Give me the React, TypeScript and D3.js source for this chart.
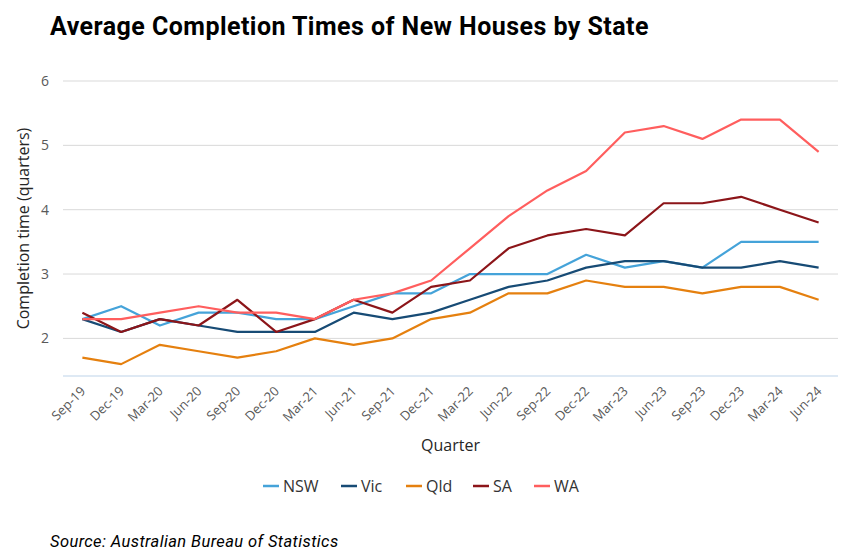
import React from "react";
import * as d3 from "d3";

const quarters = [
  "Sep-19", "Dec-19", "Mar-20", "Jun-20", "Sep-20", "Dec-20", "Mar-21", "Jun-21", "Sep-21", "Dec-21",
  "Mar-22", "Jun-22", "Sep-22", "Dec-22", "Mar-23", "Jun-23", "Sep-23", "Dec-23", "Mar-24", "Jun-24",
];
const nsw = [2.3, 2.5, 2.2, 2.4, 2.4, 2.3, 2.3, 2.5, 2.7, 2.7, 3.0, 3.0, 3.0, 3.3, 3.1, 3.2, 3.1, 3.5, 3.5, 3.5];
const vic = [2.3, 2.1, 2.3, 2.2, 2.1, 2.1, 2.1, 2.4, 2.3, 2.4, 2.6, 2.8, 2.9, 3.1, 3.2, 3.2, 3.1, 3.1, 3.2, 3.1];
const qld = [1.7, 1.6, 1.9, 1.8, 1.7, 1.8, 2.0, 1.9, 2.0, 2.3, 2.4, 2.7, 2.7, 2.9, 2.8, 2.8, 2.7, 2.8, 2.8, 2.6];
const sa = [2.4, 2.1, 2.3, 2.2, 2.6, 2.1, 2.3, 2.6, 2.4, 2.8, 2.9, 3.4, 3.6, 3.7, 3.6, 4.1, 4.1, 4.2, 4.0, 3.8];
const wa = [2.3, 2.3, 2.4, 2.5, 2.4, 2.4, 2.3, 2.6, 2.7, 2.9, 3.4, 3.9, 4.3, 4.6, 5.2, 5.3, 5.1, 5.4, 5.4, 4.9];
const seriesNames = ["NSW", "Vic", "Qld", "SA", "WA"];
const seriesValues = [nsw, vic, qld, sa, wa];
const seriesColors = ["#45A3D9", "#174B75", "#E5800F", "#8C1519", "#FF5E5E"];
const yTicks = [2, 3, 4, 5, 6];

const W = 843;
const H = 556;
const plotLeft = 63;
const plotRight = 838;
const plotTop = 81;
const plotBottom = 377;

export default function App() {
  const x = d3.scaleBand<string>().domain(quarters).range([plotLeft, plotRight]).padding(0);
  const cx = (q: string) => (x(q) as number) + x.bandwidth() / 2;
  const y = d3.scaleLinear().domain([1.4, 6]).range([plotBottom, plotTop]);
  const line = d3
    .line<number>()
    .x((_, i) => cx(quarters[i]))
    .y((v) => y(v));

  const legendItems = [
    { x: 263, text: 283 },
    { x: 341, text: 361 },
    { x: 406, text: 426 },
    { x: 473, text: 493 },
    { x: 534, text: 554 },
  ];

  return (
    <svg width={W} height={H} style={{ position: "absolute", left: 0, top: 0, background: "#fff" }}>
      <rect width={W} height={H} fill="#fff" />
      <text x={50} y={35} fontFamily="Roboto" fontWeight={700} fontSize={25} letterSpacing={0.45} fill="#000">
        Average Completion Times of New Houses by State
      </text>
      {yTicks.map((t) => (
        <g key={t}>
          <line x1={plotLeft} x2={plotRight} y1={y(t)} y2={y(t)} stroke="#D9D9D9" strokeWidth={1} />
          <text x={49} y={y(t) + 5} textAnchor="end" fontFamily="Open Sans" fontSize={14} fill="#595959">
            {t}
          </text>
        </g>
      ))}
      <line x1={plotLeft} x2={plotRight} y1={376} y2={376} stroke="#BDD3EA" strokeWidth={1.2} />
      {quarters.map((q) => (
        <text
          key={q}
          transform={`translate(${cx(q) + 4},${392}) rotate(-45)`}
          textAnchor="end"
          fontFamily="Open Sans"
          fontSize={13}
          fill="#595959"
        >
          {q}
        </text>
      ))}
      {seriesValues.map((vals, i) => (
        <path
          key={seriesNames[i]}
          d={line(vals) as string}
          fill="none"
          stroke={seriesColors[i]}
          strokeWidth={2.2}
          strokeLinejoin="round"
        />
      ))}
      <text
        transform={`translate(29,${(plotTop + 376) / 2}) rotate(-90)`}
        textAnchor="middle"
        fontFamily="Open Sans"
        fontSize={16}
        fill="#262626"
      >
        Completion time (quarters)
      </text>
      <text x={(plotLeft + plotRight) / 2} y={451} textAnchor="middle" fontFamily="Open Sans" fontSize={16} fill="#262626">
        Quarter
      </text>
      {seriesNames.map((n, i) => (
        <g key={n}>
          <line x1={legendItems[i].x} x2={legendItems[i].x + 16} y1={486} y2={486} stroke={seriesColors[i]} strokeWidth={2.5} />
          <text x={legendItems[i].text} y={491.5} fontFamily="Open Sans" fontSize={16} fill="#333">
            {n}
          </text>
        </g>
      ))}
      <text x={50} y={547} fontFamily="Roboto" fontStyle="italic" fontSize={16.5} letterSpacing={0.4} fill="#000">
        Source: Australian Bureau of Statistics
      </text>
    </svg>
  );
}
